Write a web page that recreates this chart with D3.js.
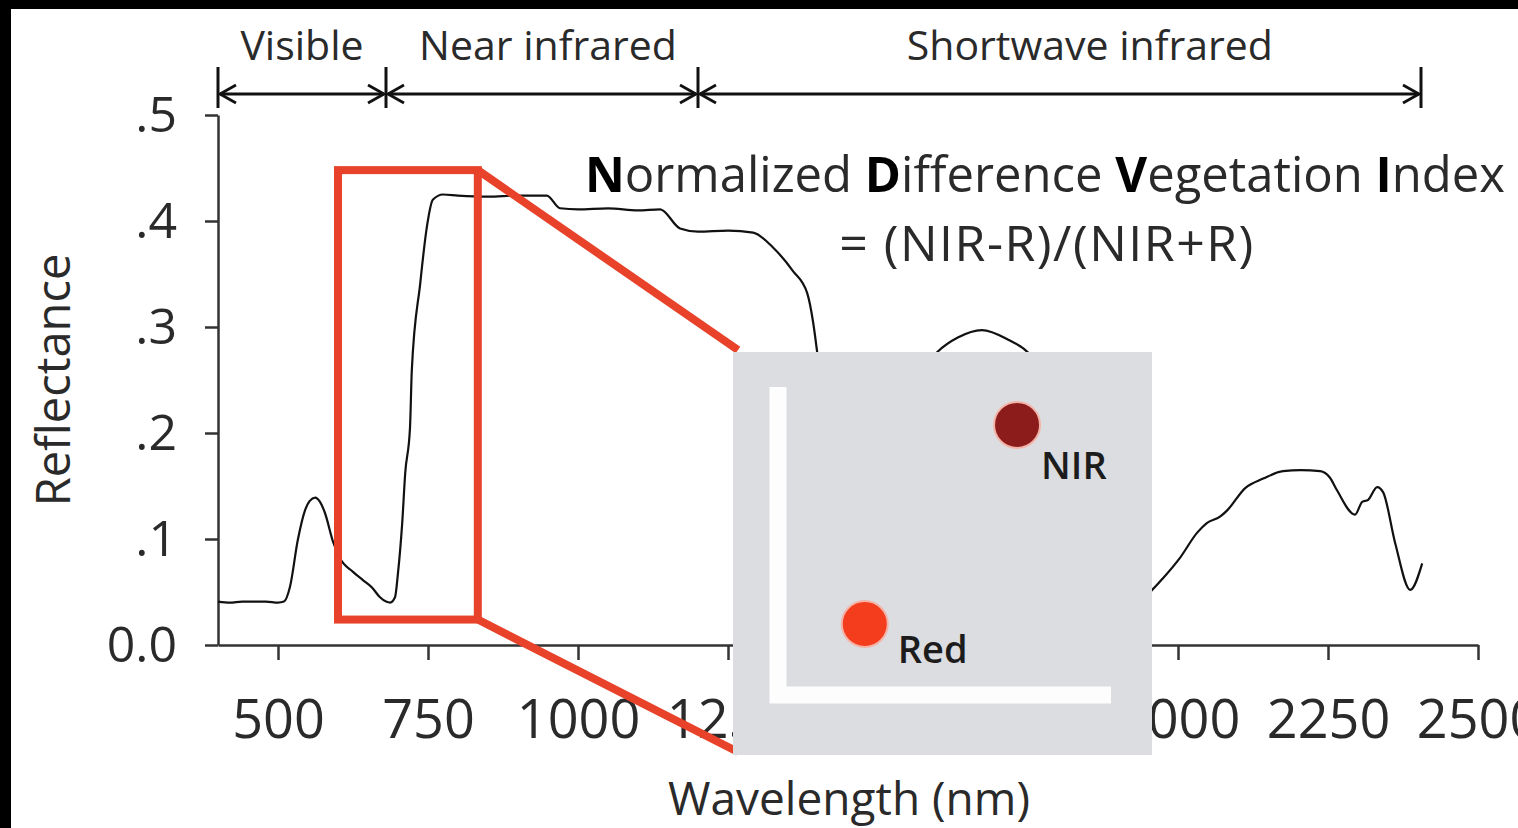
<!DOCTYPE html>
<html>
<head>
<meta charset="utf-8">
<script src="https://cdn.jsdelivr.net/npm/d3@7"></script>
<style>
  body { margin: 0; background: #000; }
  svg { display: block; }
  text { font-family: "Open Sans", Lato, sans-serif; fill: #2a2a2a; }
</style>
</head>
<body>
<div id="vis"></div>
<script>
var width = 1518;
var height = 828;

// spectrum (nm, reflectance)
var wavelengths = [400, 420, 440, 460, 480, 500, 510, 520, 533, 545, 553, 562, 570, 578, 592, 603,
  625, 642, 657, 670, 680, 687, 695, 700, 707, 712, 720, 723, 737, 748, 758, 775, 800, 850,
  900, 948, 970, 1000, 1050, 1100, 1137, 1170, 1200, 1250, 1292, 1325, 1358, 1382, 1392, 1398,
  1410, 1430, 1450, 1480, 1520, 1560, 1598, 1633, 1673, 1717, 1750, 1790, 1830, 1870, 1900,
  1930, 1957, 1975, 2003, 2032, 2048, 2070, 2082, 2112, 2142, 2175, 2205, 2237, 2253, 2265,
  2295, 2307, 2317, 2332, 2342, 2362, 2387, 2407];
var reflectance = [0.041, 0.040, 0.041, 0.041, 0.041, 0.040, 0.041, 0.055, 0.099, 0.127, 0.136, 0.139, 0.135, 0.125, 0.097, 0.082,
  0.069, 0.061, 0.054, 0.045, 0.041, 0.040, 0.045, 0.068, 0.115, 0.162, 0.205, 0.259, 0.341, 0.394, 0.420, 0.425, 0.424, 0.423,
  0.424, 0.424, 0.412, 0.411, 0.412, 0.410, 0.411, 0.393, 0.390, 0.391, 0.389, 0.375, 0.353, 0.332, 0.304, 0.279,
  0.22, 0.16, 0.13, 0.15, 0.20, 0.25, 0.276, 0.290, 0.297, 0.288, 0.276, 0.24, 0.18, 0.11, 0.06,
  0.04, 0.052, 0.063, 0.082, 0.106, 0.115, 0.121, 0.127, 0.148, 0.157, 0.164, 0.165, 0.164, 0.158, 0.146,
  0.123, 0.135, 0.137, 0.149, 0.144, 0.096, 0.052, 0.077];

var xTicks = [500, 750, 1000, 1250, 1500, 1750, 2000, 2250, 2500];
var yTicks = [0, 0.1, 0.2, 0.3, 0.4, 0.5];

// spectral regions across the top
var regionNames = ["Visible", "Near infrared", "Shortwave infrared"];
var regionBounds = [400, 680, 1200, 2405];
var regionLabelAt = [540, 950, 1853];

// red zoom box (nm, reflectance)
var zoomBoxNm = [600, 833];
var zoomBoxRefl = [0.024, 0.448];

// inset: red vs NIR points
var insetNames = ["Red", "NIR"];
var insetX = [0.24, 0.71];
var insetY = [0.25, 0.88];
var insetColors = ["#f33d1d", "#8c1b1b"];

var canvas = d3.select("#vis")
  .append("svg")
  .attr("width", width)
  .attr("height", height);

canvas.append("rect")
  .attr("width", width).attr("height", height)
  .style("fill", "#000");
canvas.append("rect")
  .attr("x", 11).attr("y", 9)
  .attr("width", width).attr("height", height)
  .style("fill", "#fff");

const x = d3.scaleLinear()
  .domain([400, 2500])
  .range([218, 1478]);

const y = d3.scaleLinear()
  .domain([0, 0.5])
  .range([645, 115]);

const xAxis = d3.axisBottom(x)
  .tickValues(xTicks)
  .tickSize(15)
  .tickSizeOuter(0)
  .tickPadding(40)
  .tickFormat(d3.format("d"));

const yAxis = d3.axisLeft(y)
  .tickValues(yTicks)
  .tickSize(13)
  .tickSizeOuter(0)
  .tickPadding(28)
  .tickFormat(d => d === 0 ? "0.0" : "." + Math.round(d * 10));

var gx = canvas.append("g")
  .attr("transform", `translate(0, ${y(0)})`)
  .call(xAxis);
gx.selectAll("text").style("font-size", "54px").style("fill", "#2a2a2a")
  .style("font-family", "'Open Sans', sans-serif");

var gy = canvas.append("g")
  .attr("transform", `translate(${x(400)}, 0)`)
  .call(yAxis);
gy.selectAll("text").style("font-size", "50px").style("fill", "#2a2a2a")
  .style("font-family", "'Open Sans', sans-serif");

canvas.selectAll(".domain, .tick line")
  .style("stroke", "#333")
  .style("stroke-width", "2.5px");

// axis titles
canvas.append("text")
  .attr("x", 849)
  .attr("y", 815)
  .attr("text-anchor", "middle")
  .style("font-size", "46px")
  .text("Wavelength (nm)");

canvas.append("text")
  .attr("transform", "translate(70, 380) rotate(-90)")
  .attr("text-anchor", "middle")
  .style("font-size", "47px")
  .text("Reflectance");

// spectrum
var spectrum = wavelengths.map((w, i) => ({ w: w, r: reflectance[i] }));
var line = d3.line()
  .x(d => x(d.w))
  .y(d => y(d.r))
  .curve(d3.curveMonotoneX);

canvas.append("path")
  .datum(spectrum)
  .attr("d", line)
  .style("fill", "none")
  .style("stroke", "#111")
  .style("stroke-width", "2.2px");

// region arrows
var arrowY = 94;
var regions = canvas.append("g");
regionBounds.forEach(function (b) {
  regions.append("line")
    .attr("x1", x(b)).attr("x2", x(b))
    .attr("y1", 67).attr("y2", 108)
    .style("stroke", "#111").style("stroke-width", "3px");
});
regionNames.forEach(function (name, i) {
  var x0 = x(regionBounds[i]) + 2;
  var x1 = x(regionBounds[i + 1]) - 2;
  regions.append("line")
    .attr("x1", x0).attr("x2", x1)
    .attr("y1", arrowY).attr("y2", arrowY)
    .style("stroke", "#111").style("stroke-width", "2.8px");
  regions.append("path")
    .attr("d", `M${x0 + 16},${arrowY - 9} L${x0},${arrowY} L${x0 + 16},${arrowY + 9}`
      + ` M${x1 - 16},${arrowY - 9} L${x1},${arrowY} L${x1 - 16},${arrowY + 9}`)
    .style("fill", "none").style("stroke", "#111").style("stroke-width", "2.8px");
  regions.append("text")
    .attr("x", x(regionLabelAt[i]))
    .attr("y", 60)
    .attr("text-anchor", "middle")
    .style("font-size", "41px")
    .text(name);
});

// inset geometry
var inset = { left: 733, top: 352, right: 1152, bottom: 755 };

// red zoom box + connector lines
var red = "#e8432a";
var bx0 = x(zoomBoxNm[0]), bx1 = x(zoomBoxNm[1]);
var by0 = y(zoomBoxRefl[1]), by1 = y(zoomBoxRefl[0]);
canvas.append("rect")
  .attr("x", bx0).attr("y", by0)
  .attr("width", bx1 - bx0).attr("height", by1 - by0)
  .style("fill", "none").style("stroke", red).style("stroke-width", "8px");
canvas.append("line")
  .attr("x1", bx1).attr("y1", by0)
  .attr("x2", inset.left + 5).attr("y2", inset.top - 2)
  .style("stroke", red).style("stroke-width", "8px");
canvas.append("line")
  .attr("x1", bx1).attr("y1", by1)
  .attr("x2", inset.left + 5).attr("y2", inset.bottom - 3)
  .style("stroke", red).style("stroke-width", "8px");

// inset panel
var ig = canvas.append("g");
ig.append("rect")
  .attr("x", inset.left).attr("y", inset.top)
  .attr("width", inset.right - inset.left)
  .attr("height", inset.bottom - inset.top)
  .style("fill", "#dcdde0");

const ix = d3.scaleLinear().domain([0, 1]).range([787, 1111]);
const iy = d3.scaleLinear().domain([0, 1]).range([703, 387]);

ig.append("path")
  .attr("d", `M${ix(0) - 9},${iy(1)} L${ix(0) - 9},${iy(0) - 8} L${ix(1)},${iy(0) - 8}`)
  .style("fill", "none")
  .style("stroke", "#fdfdfd")
  .style("stroke-width", "17px");

// label offsets from each dot
var insetLabelDx = [33, 24];
var insetLabelDy = [39, 54];
insetNames.forEach(function (name, i) {
  ig.append("circle")
    .attr("cx", ix(insetX[i]))
    .attr("cy", iy(insetY[i]))
    .attr("r", 23)
    .style("fill", insetColors[i])
    .style("stroke", "#f4b3a8")
    .style("stroke-width", "2px");
  ig.append("text")
    .attr("x", ix(insetX[i]) + insetLabelDx[i])
    .attr("y", iy(insetY[i]) + insetLabelDy[i])
    .style("font-size", "38px")
    .style("font-weight", "600")
    .style("fill", "#1c1c1c")
    .text(name);
});

// NDVI formula
var title = canvas.append("text")
  .attr("x", 1505)
  .attr("y", 192)
  .attr("text-anchor", "end")
  .style("font-size", "49px");
[["N", true], ["ormalized ", false], ["D", true], ["ifference ", false],
 ["V", true], ["egetation ", false], ["I", true], ["ndex", false]].forEach(function (p) {
  title.append("tspan")
    .style("font-weight", p[1] ? "bold" : "normal")
    .style("fill", p[1] ? "#000" : "#2a2a2a")
    .text(p[0]);
});

canvas.append("text")
  .attr("x", 1047)
  .attr("y", 261)
  .attr("text-anchor", "middle")
  .style("font-size", "50px")
  .style("letter-spacing", "1.5px")
  .text("= (NIR-R)/(NIR+R)");
</script>
</body>
</html>
